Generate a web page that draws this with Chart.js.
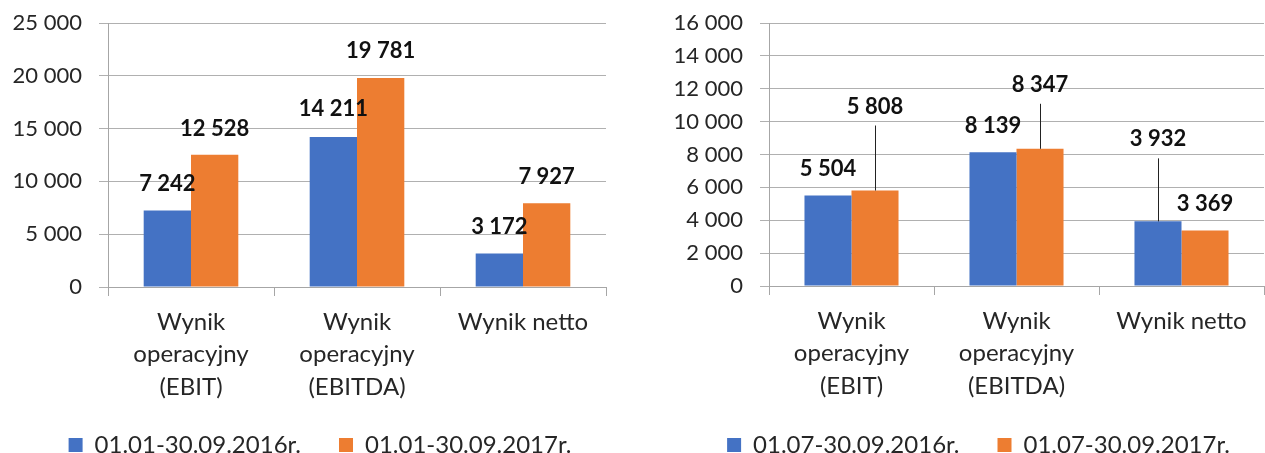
<!DOCTYPE html>
<html>
<head>
<meta charset="utf-8">
<script src="https://cdn.jsdelivr.net/npm/chart.js@4.4.1/dist/chart.umd.min.js"></script>
<style>
  html, body { margin: 0; padding: 0; background: #fff; }
  #wrap { position: relative; width: 1265px; height: 453px; overflow: hidden; }
  canvas { position: absolute; top: 0; }
  #chart-1 { left: 0; }
  #chart-2 { left: 632px; }
</style>
</head>
<body>
<div id="wrap">
  <canvas id="chart-1" width="632" height="453"></canvas>
  <canvas id="chart-2" width="633" height="453"></canvas>
</div>
<script>
// data
const categories = [
  ['Wynik', 'operacyjny', '(EBIT)'],
  ['Wynik', 'operacyjny', '(EBITDA)'],
  'Wynik netto'
];

const ytdLabels = ['01.01-30.09.2016r.', '01.01-30.09.2017r.'];
const ytd2016 = [7242, 14211, 3172];
const ytd2017 = [12528, 19781, 7927];
const ytdTicks = [0, 5000, 10000, 15000, 20000, 25000];

const q3Labels = ['01.07-30.09.2016r.', '01.07-30.09.2017r.'];
const q32016 = [5504, 8139, 3932];
const q32017 = [5808, 8347, 3369];
const q3Ticks = [0, 2000, 4000, 6000, 8000, 10000, 12000, 14000, 16000];

const BLUE = '#4472C4';
const ORANGE = '#ED7D31';
const FONT = 'Lato, "Open Sans", sans-serif';
const TEXT = '#262626';

function fmt(v) {
  return String(v).replace(/\B(?=(\d{3})+(?!\d))/g, ' ');
}

// value labels above bars, with a leader line when lifted far
const barLabels = {
  id: 'barLabels',
  afterDatasetsDraw(chart, args, opts) {
    const ctx = chart.ctx;
    ctx.save();
    ctx.font = 'bold 22px ' + FONT;
    ctx.fillStyle = '#111';
    ctx.strokeStyle = '#222';
    ctx.lineWidth = 1;
    ctx.textAlign = 'center';
    ctx.textBaseline = 'middle';
    chart.data.datasets.forEach((ds, di) => {
      chart.getDatasetMeta(di).data.forEach((bar, i) => {
        const lift = opts.lift[di][i];
        const y = bar.y - lift;
        ctx.fillText(fmt(ds.data[i]), bar.x, y);
        if (lift > 40) {
          const x = Math.round(bar.x) + 0.5;
          ctx.beginPath();
          ctx.moveTo(x, y + 19);
          ctx.lineTo(x, bar.y);
          ctx.stroke();
        }
      });
    });
    ctx.restore();
  }
};

// put the legend box where the original has it
const legendBox = {
  id: 'legendBox',
  afterLayout(chart, args, opts) {
    const lg = chart.legend;
    if (!lg) return;
    const h = lg.height;
    lg.left = opts.left;
    lg.right = opts.right;
    lg.top = opts.top;
    lg.bottom = opts.top + h;
  }
};

function makeChart(canvasId, labels, s1, s2, ticks, cfg) {
  const ctx = document.getElementById(canvasId).getContext('2d');
  return new Chart(ctx, {
    type: 'bar',
    data: {
      labels: categories,
      datasets: [
        { label: labels[0], data: s1, backgroundColor: BLUE },
        { label: labels[1], data: s2, backgroundColor: ORANGE }
      ]
    },
    options: {
      responsive: false,
      animation: false,
      devicePixelRatio: 1,
      categoryPercentage: 0.57,
      barPercentage: 1,
      layout: { padding: cfg.padding },
      scales: {
        x: {
          grid: {
            offset: true,
            drawOnChartArea: false,
            drawTicks: true,
            tickLength: 9,
            color: '#a6a6a6'
          },
          border: { color: '#a6a6a6' },
          ticks: {
            padding: 10,
            color: TEXT,
            font: { family: FONT, size: 24, lineHeight: 1.35 },
            maxRotation: 0,
            autoSkip: false
          },
          afterFit(scale) { scale.height = cfg.xHeight; }
        },
        y: {
          min: 0,
          max: ticks[ticks.length - 1],
          afterBuildTicks(scale) { scale.ticks = ticks.map(v => ({ value: v })); },
          grid: { color: '#b0b0b0', tickLength: 9 },
          border: { color: '#a6a6a6' },
          ticks: {
            padding: 17,
            color: TEXT,
            font: { family: FONT, size: 22, lineHeight: 0.5 },
            callback: v => fmt(v)
          },
          afterFit(scale) { scale.width = cfg.yWidth; }
        }
      },
      plugins: {
        legend: {
          position: 'bottom',
          labels: {
            boxWidth: 14,
            boxHeight: 14,
            padding: 38,
            color: TEXT,
            font: { family: FONT, size: 24 }
          }
        },
        tooltip: { enabled: false },
        barLabels: { lift: cfg.lift },
        legendBox: cfg.legend
      }
    },
    plugins: [barLabels, legendBox]
  });
}

makeChart('chart-1', ytdLabels, ytd2016, ytd2017, ytdTicks, {
  padding: { top: 23, left: 0, right: 26, bottom: -60 },
  yWidth: 108,
  xHeight: 154,
  legend: { left: -32, right: 672, top: 395 },
  lift: [[27, 28, 27], [26, 27, 26]]
});

makeChart('chart-2', q3Labels, q32016, q32017, q3Ticks, {
  padding: { top: 23, left: 0, right: 1, bottom: -60 },
  yWidth: 137,
  xHeight: 155,
  legend: { left: 20, right: 673, top: 395 },
  lift: [[27, 26, 82], [84, 64, 27]]
});
</script>
</body>
</html>
